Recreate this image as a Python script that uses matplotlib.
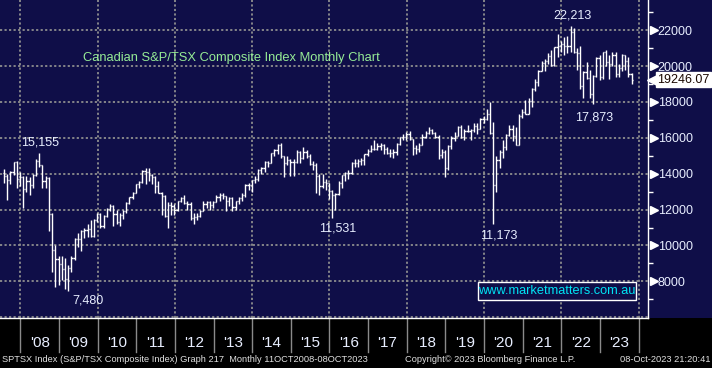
import numpy as np
import pandas as pd
import matplotlib
matplotlib.use("Agg")
import matplotlib.pyplot as plt
from matplotlib.collections import LineCollection
from matplotlib import font_manager
import matplotlib.transforms as mtransforms
from matplotlib.lines import Line2D

# ---------------- data (monthly OHLC, Jul 2007 - Oct 2023) ----------------
opens = [
    14057, 13869, 13660, 14099, 14625, 13689,
    13833, 13155, 13583, 13350, 13937, 14715, 14467, 13593, 13771, 11753, 9763, 9271,
    8988, 8695, 8123, 8720, 9325, 10370, 10375, 10787, 10868, 10911, 10548, 11447,
    11746, 11094, 11630, 12038, 12211, 11763, 11294, 11713, 11914, 12370, 12676, 12953,
    13443, 13552, 14137, 14116, 13945, 13803, 13301, 12946, 12769, 11624, 12252, 12204,
    11955, 12452, 12644, 12392, 12293, 11513, 11597, 11665, 11949, 12317, 12423, 12239,
    12434, 12685, 12822, 12750, 12457, 12650, 12129, 12487, 12654, 12787, 13361, 13395,
    13622, 13695, 14210, 14335, 14652, 14604, 15146, 15331, 15626, 14961, 14613, 14745,
    14632, 14674, 15234, 14902, 15225, 15014, 14553, 14468, 13859, 13307, 13529, 13470,
    13010, 12822, 12860, 13494, 13951, 14066, 14065, 14583, 14598, 14725, 14787, 15083,
    15288, 15386, 15399, 15548, 15586, 15350, 15182, 15144, 15212, 15635, 16026, 16067,
    16209, 15952, 15443, 15367, 15608, 16062, 16278, 16434, 16263, 16073, 15027, 15198,
    14323, 15541, 16007, 16102, 16581, 16037, 16382, 16407, 16442, 16659, 16483, 17040,
    17063, 17318, 16263, 13379, 14781, 15193, 15515, 16169, 16514, 16121, 15580, 17190,
    17433, 17337, 18060, 18701, 19108, 19731, 20166, 20288, 20583, 20070, 21037, 21126,
    21223, 21098, 21126, 21890, 20762, 20729, 18861, 19693, 19331, 18444, 19426, 20453,
    19385, 20767, 20221, 20100, 20636, 19572, 19916, 20627, 20288, 19541,
]
highs = [
    14258, 14000, 14150, 14625, 14700, 14100,
    13900, 13900, 13800, 14000, 14800, 15155, 14500, 13900, 13800, 11800, 10000, 9400,
    9400, 9300, 8900, 9400, 10400, 10700, 10850, 11000, 11200, 11400, 11500, 11800,
    11800, 11700, 12100, 12300, 12250, 12000, 11800, 12000, 12400, 12700, 13000, 13450,
    13600, 14200, 14300, 14330, 14000, 13900, 13600, 12960, 12800, 12400, 12400, 12300,
    12500, 12700, 12800, 12500, 12400, 11800, 11800, 12000, 12500, 12500, 12500, 12500,
    12800, 12900, 12900, 12750, 12700, 12700, 12500, 12700, 12900, 13400, 13500, 13650,
    13900, 14250, 14400, 14700, 14700, 15150, 15400, 15650, 15685, 15000, 15000, 14800,
    14800, 15300, 15250, 15500, 15300, 15100, 14700, 14600, 14000, 14000, 13700, 13500,
    13100, 12900, 13600, 13950, 14100, 14200, 14650, 14800, 14800, 14900, 15100, 15400,
    15600, 15900, 15700, 15700, 15650, 15500, 15400, 15350, 15700, 16050, 16200, 16300,
    16400, 15950, 15600, 15700, 16200, 16400, 16600, 16500, 16300, 16150, 15400, 15300,
    15600, 16100, 16300, 16650, 16700, 16500, 16700, 16500, 16800, 16800, 17100, 17200,
    17600, 17970, 16900, 15000, 15300, 15900, 16200, 16700, 16700, 16600, 17300, 17600,
    18100, 18200, 18800, 19300, 19800, 20300, 20400, 20700, 20900, 21050, 21800, 21400,
    21600, 21700, 22213, 22100, 21000, 21100, 19700, 20200, 19800, 19500, 20500, 20600,
    20800, 20900, 20600, 20800, 20800, 20100, 20650, 20600, 20500, 19600,
]
lows = [
    13500, 12550, 13400, 13950, 13200, 13300,
    12100, 13000, 12800, 13200, 13900, 14400, 13200, 13200, 10800, 8500, 7700, 7800,
    8100, 7600, 7480, 8500, 9200, 9900, 9700, 10400, 10500, 10500, 10500, 11300,
    11000, 11000, 11600, 11900, 11100, 11200, 11100, 11500, 11800, 12300, 12600, 12900,
    13200, 13500, 13400, 13600, 13400, 12900, 12900, 11700, 11600, 10950, 11700, 11700,
    11900, 12400, 12300, 12000, 11400, 11200, 11400, 11600, 11900, 12100, 12000, 12100,
    12400, 12500, 12600, 11900, 12200, 11900, 12000, 12300, 12500, 12700, 13100, 13000,
    13500, 13600, 14000, 14100, 14400, 14600, 15000, 15100, 14900, 13800, 14500, 13900,
    13900, 14600, 14600, 14800, 14900, 14500, 14200, 12900, 12800, 13200, 13100, 12600,
    11531, 12000, 12800, 13200, 13600, 13700, 14000, 14400, 14400, 14500, 14500, 15000,
    15200, 15300, 15300, 15300, 15100, 15100, 14950, 14900, 15050, 15600, 15900, 15900,
    15900, 15050, 15100, 15200, 15600, 16000, 16200, 16200, 16000, 14800, 14900, 13800,
    14200, 15400, 15800, 16100, 16000, 15900, 16300, 15900, 16300, 16200, 16500, 16800,
    17000, 16200, 11173, 13000, 14300, 14900, 15300, 16100, 15800, 15600, 15600, 17100,
    17300, 17300, 17700, 18600, 18900, 19700, 19700, 20100, 20000, 20000, 20500, 20800,
    20600, 20700, 20800, 20700, 19800, 18700, 18200, 19300, 18200, 17873, 19400, 19200,
    19300, 20000, 19300, 20000, 19400, 19400, 19700, 19800, 19400, 19000,
]
closes = [
    13869, 13660, 14099, 14625, 13689, 13833,
    13155, 13583, 13350, 13937, 14715, 14467, 13593, 13771, 11753, 9763, 9271, 8988,
    8695, 8123, 8720, 9325, 10370, 10375, 10787, 10868, 10911, 10548, 11447, 11746,
    11094, 11630, 12038, 12211, 11763, 11294, 11713, 11914, 12370, 12676, 12953, 13443,
    13552, 14137, 14116, 13945, 13803, 13301, 12946, 12769, 11624, 12252, 12204, 11955,
    12452, 12644, 12392, 12293, 11513, 11597, 11665, 11949, 12317, 12423, 12239, 12434,
    12685, 12822, 12750, 12457, 12650, 12129, 12487, 12654, 12787, 13361, 13395, 13622,
    13695, 14210, 14335, 14652, 14604, 15146, 15331, 15626, 14961, 14613, 14745, 14632,
    14674, 15234, 14902, 15225, 15014, 14553, 14468, 13859, 13307, 13529, 13470, 13010,
    12822, 12860, 13494, 13951, 14066, 14065, 14583, 14598, 14725, 14787, 15083, 15288,
    15386, 15399, 15548, 15586, 15350, 15182, 15144, 15212, 15635, 16026, 16067, 16209,
    15952, 15443, 15367, 15608, 16062, 16278, 16434, 16263, 16073, 15027, 15198, 14323,
    15541, 16007, 16102, 16581, 16037, 16382, 16407, 16442, 16659, 16483, 17040, 17063,
    17318, 16263, 13379, 14781, 15193, 15515, 16169, 16514, 16121, 15580, 17190, 17433,
    17337, 18060, 18701, 19108, 19731, 20166, 20288, 20583, 20070, 21037, 21126, 21223,
    21098, 21126, 21890, 20762, 20729, 18861, 19693, 19331, 18444, 19426, 20453, 19385,
    20767, 20221, 20100, 20636, 19572, 19916, 20627, 20288, 19541, 19246.07,
]
first_month = "2007-07-01"
last_price = 19246.07
y_ticks = [8000, 10000, 12000, 14000, 16000, 18000, 20000, 22000]
y_minor = [7000, 9000, 11000, 13000, 15000, 17000, 19000, 21000, 23000]
grid_y = [6000, 8000, 10000, 12000, 14000, 16000, 18000, 20000, 22000]
grid_years = [2008, 2010, 2012, 2014, 2016, 2018, 2020, 2022, 2024]
label_years = list(range(2008, 2024))
year_labels = ["'08", "'09", "'10", "'11", "'12", "'13", "'14", "'15",
               "'16", "'17", "'18", "'19", "'20", "'21", "'22", "'23"]
callout_highs = [15155, 22213]
callout_lows = [7480, 11531, 11173, 17873]
title = "Canadian S&P/TSX Composite Index Monthly Chart"
watermark = "www.marketmatters.com.au"
footer_left = "SPTSX Index (S&P/TSX Composite Index) Graph 217  Monthly 11OCT2008-08OCT2023"
footer_mid = "Copyright\u00a9 2023 Bloomberg Finance L.P."
footer_right = "08-Oct-2023 21:20:41"

# ---------------- styling ----------------
names = {f.name for f in font_manager.fontManager.ttflist}
MAIN = "Liberation Sans" if "Liberation Sans" in names else "DejaVu Sans"
NARROW = "Liberation Sans Narrow" if "Liberation Sans Narrow" in names else MAIN
plt.rcParams["font.family"] = [MAIN, "DejaVu Sans"]

NAVY = "#0f0e48"
TXT = "#e8eeff"
W, H = 712, 368
fig = plt.figure(figsize=(W / 100, H / 100), dpi=100, facecolor="black")

# navy panel behind plot + right axis area
fig.patches.append(plt.Rectangle((0, 50 / H), 1, 318 / H, transform=fig.transFigure,
                                 facecolor=NAVY, edgecolor="none", zorder=-10))

ax = fig.add_axes([0, 50 / H, 648 / W, 318 / H])
ax.set_zorder(2)
ax.set_facecolor(NAVY)

months = pd.date_range(first_month, periods=len(closes), freq="MS")
xs = months.year + (months.month - 0.5) / 12 + 0.03

px_per_year = (638.6 - 20.4) / 16
x0 = 2008 - 20.4 / px_per_year
x1 = x0 + 648 / px_per_year
ax.set_xlim(x0, x1)
ax.set_ylim(5960, 23680)

# grid
for gy in grid_y:
    ax.axhline(gy, color="#8e8e8e", lw=1.3, ls=(0, (1.2, 1.3)), zorder=1)
for gx in grid_years:
    ax.axvline(gx, color="#8e8e8e", lw=1.3, ls=(0, (1.2, 1.3)), zorder=1)

# OHLC bars
w = 0.38 / 12
segs = []
for x, o, h, l, c in zip(xs, opens, highs, lows, closes):
    segs.append([(x, l), (x, h)])
    segs.append([(x - w, o), (x, o)])
    segs.append([(x, c), (x + w, c)])
ax.add_collection(LineCollection(segs, colors="white", linewidths=1.0, zorder=3,
                                 capstyle="butt"))

# spines / ticks
for s in ["top", "left"]:
    ax.spines[s].set_visible(False)
for s in ["right", "bottom"]:
    ax.spines[s].set_color("white")
    ax.spines[s].set_linewidth(1.0)
ax.set_xticks([])
ax.yaxis.tick_right()
ax.set_yticks(y_ticks)
ax.set_yticklabels([str(v) for v in y_ticks])
ax.set_yticks(y_minor, minor=True)
ax.tick_params(axis="y", which="major", length=0, pad=7.0, labelsize=9, labelcolor=TXT)
ax.tick_params(axis="y", which="minor", length=3.5, width=1, color="white")

bt = mtransforms.blended_transform_factory(ax.transAxes, ax.transData)
ax.plot([653.5 / 648] * len(y_ticks), y_ticks, ls="none", marker=">", ms=5.5,
        color="white", mec="white", transform=bt, clip_on=False, zorder=5)

# last price tag
ax.plot([652 / 648], [last_price], ls="none", marker="<", ms=7, color="white",
        transform=bt, clip_on=False, zorder=5)
ax.text(657 / 648, last_price, f"{last_price:.2f}", transform=bt, ha="left",
        va="center", fontsize=9, color="#1a0800", zorder=6, clip_on=False,
        bbox=dict(boxstyle="square,pad=0.12", fc="white", ec="white"))

# callouts
def px2pt(p):
    return p * 0.72

call_offsets_hi = {15155: (1, 10), 22213: (2, 11)}
call_offsets_lo = {7480: (20, -10), 11531: (5, -10), 11173: (5, -11), 17873: (1, -13)}
for v in callout_highs:
    i = int(np.argmin(np.abs(np.array(highs) - v)))
    dx, dy = call_offsets_hi[v]
    ax.annotate(f"{v:,}", (xs[i], highs[i]), xytext=(px2pt(dx), px2pt(dy)),
                textcoords="offset points", ha="center", va="center",
                fontsize=9, color=TXT, zorder=6)
for v in callout_lows:
    i = int(np.argmin(np.abs(np.array(lows) - v)))
    dx, dy = call_offsets_lo[v]
    ax.annotate(f"{v:,}", (xs[i], lows[i]), xytext=(px2pt(dx), px2pt(dy)),
                textcoords="offset points", ha="center", va="center",
                fontsize=9, color=TXT, zorder=6)

# title & watermark
ax.text(231 / 648, (318 - 58) / 318, title, transform=ax.transAxes, ha="center",
        va="center", fontsize=9.3, color="#96ec96", zorder=6)
ax.add_patch(plt.Rectangle((478 / 648, (318 - 300) / 318), 158 / 648, 18 / 318,
                           transform=ax.transAxes, facecolor=NAVY, edgecolor="white",
                           lw=1.0, zorder=5, clip_on=False))
ax.text(557 / 648, (318 - 291) / 318, watermark, transform=ax.transAxes,
        ha="center", va="center", fontsize=9.2, color="#00e4f4", zorder=6)

# bottom band: year separators and labels
bf = mtransforms.blended_transform_factory(ax.transData, fig.transFigure)
for yr in range(2008, 2025):
    fig.add_artist(Line2D([yr, yr], [(H - 318) / H, (H - 352) / H], transform=bf,
                          color="#8a8a8a", lw=1.0))
for yr, lab in zip(label_years, year_labels):
    fig.text(yr + 0.5, (H - 343) / H, lab, transform=bf, ha="center", va="center",
             fontsize=11, color=TXT, family=[NARROW, "DejaVu Sans"])

fig.text(2 / W, (H - 359) / H, footer_left, ha="left", va="center", fontsize=6.7,
         color="#e0e0e0", family=[NARROW, "DejaVu Sans"])
fig.text(405 / W, (H - 359) / H, footer_mid, ha="left", va="center", fontsize=6.7,
         color="#e0e0e0", family=[NARROW, "DejaVu Sans"])
fig.text(710 / W, (H - 359) / H, footer_right, ha="right", va="center", fontsize=6.7,
         color="#e0e0e0", family=[NARROW, "DejaVu Sans"])

fig.savefig("out.png", dpi=100, facecolor="black")
